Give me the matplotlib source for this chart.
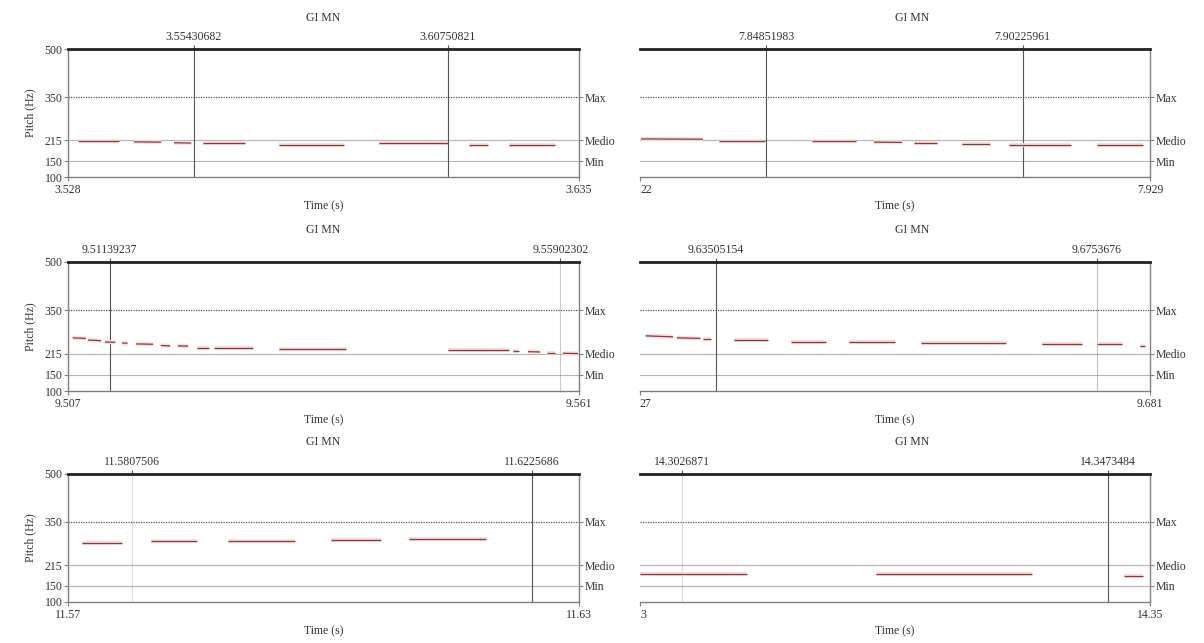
import matplotlib
matplotlib.use('Agg')
import matplotlib.pyplot as plt

plt.rcParams['font.family'] = 'Liberation Serif'
plt.rcParams['font.size'] = 8.5

W, H = 1204, 643

# pitch reference levels (Hz)
y_ticks = [100, 150, 215, 350, 500]
ref_names = ['Max', 'Medio', 'Min']
ref_vals = [350, 215, 150]

titles = ['GI MN'] * 6

# time window shown in each panel (s)
xlims = [(3.528, 3.635), (7.822, 7.929),
         (9.507, 9.561), (9.627, 9.681),
         (11.5741, 11.6275), (14.2983, 14.3518)]
edge_labels = [('3.528', '3.635'), ('22', '7.929'),
               ('9.507', '9.561'), ('27', '9.681'),
               ('11.57', '11.63'), ('3', '14.35')]

# cursor positions (s)
cursors = [(3.55430682, 3.60750821), (7.84851983, 7.90225961),
           (9.51139237, 9.55902302), (9.63505154, 9.6753676),
           (11.5807506, 11.6225686), (14.3026871, 14.3473484)]
cursor_labels = [('3.55430682', '3.60750821'), ('7.84851983', '7.90225961'),
                 ('9.51139237', '9.55902302'), ('9.63505154', '9.6753676'),
                 ('11.5807506', '11.6225686'), ('14.3026871', '14.3473484')]
cursor_alpha = [(1, 1), (1, 1), (1, 0.3), (1, 0.35), (0.2, 1), (0.2, 1)]

# pitch contour pieces: (t_start, t_end, hz_start, hz_end)
pitch = [
    [(3.5301, 3.5387, 212, 212), (3.5418, 3.5475, 210, 209), (3.5502, 3.5538, 207, 206),
     (3.5563, 3.5651, 206, 206), (3.5722, 3.5858, 201, 201), (3.5931, 3.6076, 207, 207),
     (3.6120, 3.6159, 201, 201), (3.6203, 3.6300, 201, 201)],
    [(7.8222, 7.8352, 219, 218), (7.8386, 7.8482, 212, 212), (7.8581, 7.8673, 212, 212),
     (7.8711, 7.8770, 209, 208), (7.8795, 7.8843, 206, 206), (7.8896, 7.8954, 204, 204),
     (7.8994, 7.9124, 200, 200), (7.9179, 7.9275, 200, 200)],
    [(9.5075, 9.5089, 265, 263), (9.5091, 9.5105, 258, 256), (9.5109, 9.5120, 252, 251),
     (9.5127, 9.5133, 249, 248), (9.5142, 9.5160, 246, 245), (9.5168, 9.5178, 241, 240),
     (9.5186, 9.5197, 240, 239), (9.5206, 9.5219, 234, 234), (9.5224, 9.5265, 233, 233),
     (9.5293, 9.5364, 230, 230), (9.5472, 9.5536, 226, 226), (9.5540, 9.5547, 225, 225),
     (9.5556, 9.5569, 222, 221), (9.5576, 9.5585, 219, 219), (9.5593, 9.5609, 217, 216)],
    [(9.6276, 9.6305, 271, 268), (9.6309, 9.6334, 265, 263), (9.6337, 9.6345, 260, 260),
     (9.6370, 9.6406, 258, 258), (9.6430, 9.6467, 253, 253), (9.6491, 9.6540, 252, 252),
     (9.6568, 9.6658, 250, 250), (9.6696, 9.6738, 246, 246), (9.6754, 9.6780, 246, 246),
     (9.6799, 9.6805, 240, 240)],
    [(11.5756, 11.5797, 285, 285), (11.5828, 11.5876, 290, 290), (11.5908, 11.5978, 291, 291),
     (11.6016, 11.6068, 294, 294), (11.6097, 11.6178, 297, 297)],
    [(14.2983, 14.3095, 187, 187), (14.3231, 14.3394, 188, 188), (14.3491, 14.3511, 182, 182)],
]

rows = [(49, 177), (262, 391), (474, 602)]
cols = [(68, 579), (640, 1150)]
title_y = [18, 230, 442]
title_x = [323, 912]


def box(x0, x1, y0, y1):
    return [x0 / W, 1 - y1 / H, (x1 - x0) / W, (y1 - y0) / H]


fig = plt.figure(figsize=(W / 100, H / 100), dpi=100)

for i in range(6):
    r, c = divmod(i, 2)
    ax = fig.add_axes(box(cols[c][0], cols[c][1], rows[r][0], rows[r][1]))
    ax.set_xlim(*xlims[i])
    ax.set_ylim(100, 500)

    # reference lines
    ax.axhline(350, color='#555555', lw=0.9, ls=(0, (1, 1)))
    ax.axhline(215, color='#b5b5b5', lw=0.8)
    ax.axhline(150, color='#b5b5b5', lw=0.8)

    # cursors
    for t, a in zip(cursors[i], cursor_alpha[i]):
        ax.axvline(t, color='#555555', lw=0.8, alpha=a)

    # pitch contour
    for t0, t1, h0, h1 in pitch[i]:
        ax.plot([t0, t1], [h0, h1], color='#f8dede', lw=3, solid_capstyle='butt')
        ax.plot([t0, t1], [h0, h1], color='#8a3a3a', lw=0.9, solid_capstyle='butt')

    for s in ['left', 'right', 'bottom']:
        ax.spines[s].set_color('#808080')
        ax.spines[s].set_linewidth(1.0)
    ax.spines['top'].set_linewidth(2.0)
    ax.spines['top'].set_color('#222222')

    ax.set_xticks(list(xlims[i]), labels=list(edge_labels[i]))
    ax.tick_params(axis='x', length=3, pad=2, color='#808080', labelcolor='#333333')
    lbls = ax.get_xticklabels()
    if c == 1:
        lbls[0].set_horizontalalignment('left')
        ax.spines['left'].set_visible(False)
        ax.set_yticks([])
    else:
        ax.set_yticks(y_ticks, labels=[str(v) for v in y_ticks])
        ax.tick_params(axis='y', length=3, pad=1, color='#808080', labelcolor='#333333')
        ax.set_ylabel('Pitch (Hz)', labelpad=6, color='#333333')
    ax.set_xlabel('Time (s)', labelpad=3, color='#333333')

    sec = ax.secondary_yaxis('right')
    sec.set_yticks(ref_vals, labels=ref_names)
    sec.tick_params(length=3, pad=1, color='#808080', labelcolor='#333333')
    sec.spines['right'].set_visible(False)

    top = ax.secondary_xaxis('top')
    top.set_xticks(list(cursors[i]), labels=list(cursor_labels[i]))
    top.tick_params(length=3, pad=1, color='#555555', labelcolor='#333333')
    top.spines['top'].set_visible(False)

    fig.text(title_x[c] / W, 1 - title_y[r] / H, titles[i], ha='center', va='center',
             color='#333333')

fig.savefig('out.png', dpi=100)
